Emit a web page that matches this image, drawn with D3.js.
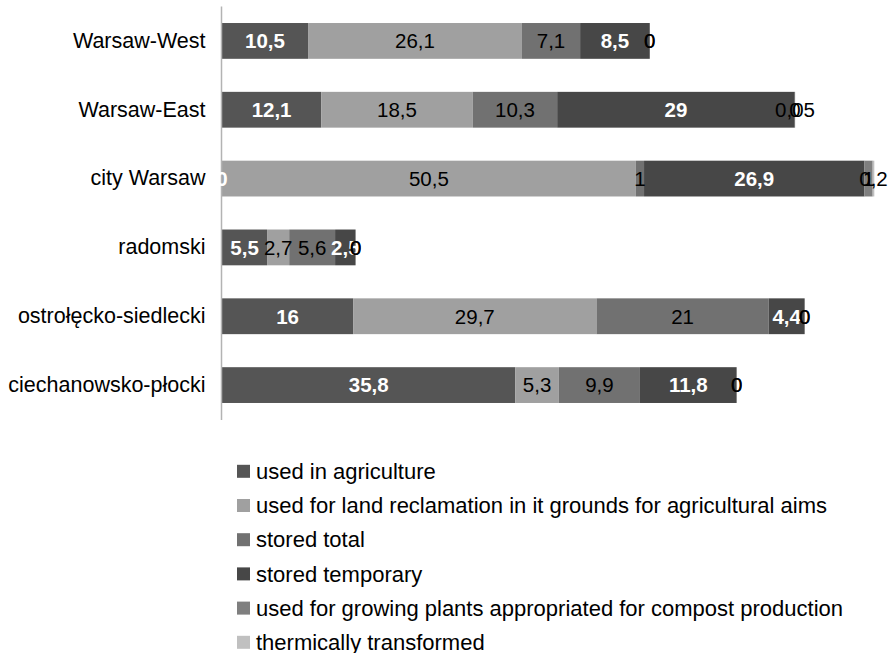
<!DOCTYPE html>
<html lang="en">
<head>
    <meta charset="UTF-8"/>
    <title>sewage sludge</title>
    <script src="https://d3js.org/d3.v7.min.js" charset="utf-8"></script>
    <style type="text/css">
        body { margin: 0; background: #fff; }
        text {
            font-family: Arial, "Liberation Sans", sans-serif;
        }
    </style>
</head>
<body>
<div id="my_dataviz"></div>
<script>

// data
var categories = ["Warsaw-West", "Warsaw-East", "city Warsaw", "radomski", "ostrołęcko-siedlecki", "ciechanowsko-płocki"];
var seriesNames = ["used in agriculture",
                   "used for land reclamation in it grounds for agricultural aims",
                   "stored total",
                   "stored temporary",
                   "used for growing plants appropriated for compost production",
                   "thermically transformed"];
var agriculture = [10.5, 12.1, 0, 5.5, 16, 35.8];
var reclamation = [26.1, 18.5, 50.5, 2.7, 29.7, 5.3];
var storedTotal = [7.1, 10.3, 1, 5.6, 21, 9.9];
var storedTemp  = [8.5, 29, 26.9, 2.5, 4.4, 11.8];
var growing     = [0, 0, 1, 0, 0, 0];
var thermal     = [0, 0.05, 0.2, 0, 0, 0];

var colors = ["#555555", "#a0a0a0", "#717171", "#474747", "#7f7f7f", "#c0c0c0"];
var whiteLabel = [true, false, false, true, false, false];

var width = 891, height = 653;

var svg = d3.select("#my_dataviz")
  .append("svg")
    .attr("width", width)
    .attr("height", height);

// build rows for the stack
var keys = ["s0", "s1", "s2", "s3", "s4", "s5"];
var cols = [agriculture, reclamation, storedTotal, storedTemp, growing, thermal];
var rows = categories.map(function(c, i) {
  var r = {cat: c, idx: i};
  keys.forEach(function(k, j) { r[k] = cols[j][i]; });
  return r;
});
var stacked = d3.stack().keys(keys)(rows);

// scales
var x = d3.scaleLinear()
  .domain([0, 80])
  .range([222, 222 + 80 * 8.195]);

var y = d3.scaleBand()
  .domain(categories)
  .range([6.5, 419.5])
  .paddingInner(0.48)
  .paddingOuter(0.24);

// bars
var layer = svg.selectAll("g.layer")
  .data(stacked)
  .enter()
  .append("g")
    .attr("class", "layer")
    .attr("fill", function(d, i) { return colors[i]; });

layer.selectAll("rect")
  .data(function(d) { return d; })
  .enter()
  .append("rect")
    .attr("x", function(d) { return x(d[0]); })
    .attr("y", function(d) { return y(d.data.cat); })
    .attr("width", function(d) { return x(d[1]) - x(d[0]); })
    .attr("height", y.bandwidth());

// Y axis
var yAxis = svg.append("g")
  .attr("transform", "translate(221.5,0)")
  .call(d3.axisLeft(y).tickSize(0).tickPadding(16));
yAxis.select(".domain")
  .attr("stroke", "#b3b3b3")
  .attr("stroke-width", 1.5)
  .attr("d", "M0,6.5V420");
yAxis.selectAll("text")
  .style("font-family", "Arial, 'Liberation Sans', sans-serif")
  .style("font-size", "21.5px")
  .attr("fill", "#000");

// data labels (they overlap on the tiny segments, as in the original)
stacked.forEach(function(s, i) {
  svg.append("g").selectAll("text")
    .data(s)
    .enter()
    .append("text")
      .attr("x", function(d) { return (x(d[0]) + x(d[1])) / 2; })
      .attr("y", function(d) { return y(d.data.cat) + y.bandwidth() / 2; })
      .attr("dy", "0.36em")
      .attr("text-anchor", "middle")
      .style("font-size", "20.5px")
      .style("font-weight", whiteLabel[i] ? "bold" : "normal")
      .attr("fill", whiteLabel[i] ? "#fff" : "#000")
      .text(function(d) { return String(cols[i][d.data.idx]).replace(".", ","); });
});

// legend
var legend = svg.append("g").selectAll("g")
  .data(seriesNames)
  .enter()
  .append("g")
    .attr("transform", function(d, i) { return "translate(237," + (471.3 + i * 34.2) + ")"; });

legend.append("rect")
  .attr("x", 0)
  .attr("y", -6.5)
  .attr("width", 13)
  .attr("height", 13)
  .attr("fill", function(d, i) { return colors[i]; });

legend.append("text")
  .attr("x", 19)
  .attr("y", 0)
  .attr("dy", "0.35em")
  .style("font-size", "22px")
  .attr("fill", "#000")
  .text(function(d) { return d; });

</script>
</body>
</html>
